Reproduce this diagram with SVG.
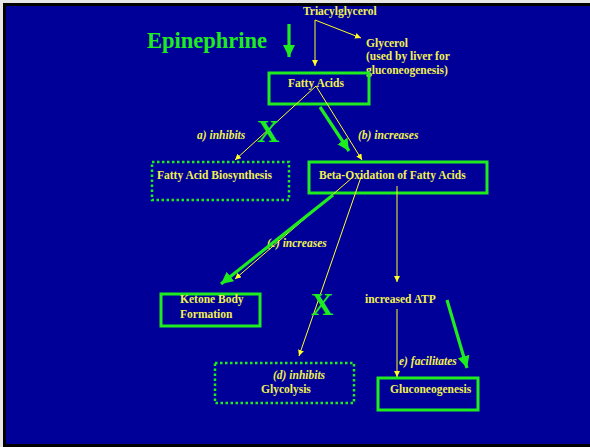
<svg xmlns="http://www.w3.org/2000/svg" width="590" height="447" viewBox="0 0 590 447">
  <defs>
    <style>
      .t { font-family: "Liberation Serif", "Times New Roman", serif; font-weight: bold; font-size: 11.5px; fill: #f0f050; }
      .i { font-style: italic; }
      .box { fill: none; stroke: #1eec1e; stroke-width: 3; }
      .dot { fill: none; stroke: #1eec1e; stroke-width: 2.5; stroke-dasharray: 2.5 2.5; }
      .y { stroke: #ffff22; stroke-width: 1; fill: none; }
      .g { stroke: #1eec1e; stroke-width: 3.2; fill: none; }
      .x { font-family: "Liberation Serif", "Times New Roman", serif; font-weight: bold; font-size: 31px; fill: #1eec1e; }
    </style>
    <marker id="ay" markerUnits="userSpaceOnUse" markerWidth="8" markerHeight="8" refX="6" refY="3" orient="auto">
      <path d="M0,0 L6,3 L0,6 Z" fill="#ffff22"/>
    </marker>
    <marker id="ag" markerUnits="userSpaceOnUse" markerWidth="14" markerHeight="14" refX="12" refY="6" orient="auto">
      <path d="M0,0 L12,6 L0,12 Z" fill="#1eec1e"/>
    </marker>
  </defs>

  <rect x="0" y="0" width="590" height="447" fill="#e6e6e6"/>
  <rect x="3" y="3" width="587" height="444" fill="#000000"/>
  <rect x="6" y="6" width="584" height="438" fill="#000099"/>

  <g id="epinephrine">
    <text x="147" y="48" font-family="Liberation Serif, Times New Roman, serif" font-weight="bold" font-size="22.5" fill="#1eec1e">Epinephrine</text>
  </g>
  <g id="triacylglycerol">
    <text class="t" x="303" y="15">Triacylglycerol</text>
  </g>
  <g id="glycerol">
    <text class="t" x="366" y="47">Glycerol</text>
    <text class="t" x="366" y="60">(used by liver for</text>
    <text class="t" x="366" y="74">gluconeogenesis)</text>
  </g>
  <g id="fatty-acids">
    <rect class="box" x="269" y="73" width="100" height="31"/>
    <text class="t" x="288" y="87">Fatty Acids</text>
  </g>
  <g id="fa-biosynthesis">
    <rect class="dot" x="152" y="162" width="137" height="38"/>
    <text class="t" x="157" y="179">Fatty Acid Biosynthesis</text>
  </g>
  <g id="beta-oxidation">
    <rect class="box" x="309" y="162" width="178" height="31"/>
    <text class="t" x="319" y="179">Beta-Oxidation of Fatty Acids</text>
  </g>
  <g id="ketone">
    <rect class="box" x="161" y="294" width="99" height="32"/>
    <text class="t" x="180" y="303">Ketone Body</text>
    <text class="t" x="180" y="318">Formation</text>
  </g>
  <g id="increased-atp">
    <text class="t" x="365" y="303">increased ATP</text>
  </g>
  <g id="glycolysis">
    <rect class="dot" x="215" y="363" width="139" height="40"/>
    <text class="t i" x="273" y="379">(d) inhibits</text>
    <text class="t" x="261" y="393">Glycolysis</text>
  </g>
  <g id="gluconeogenesis">
    <rect class="box" x="378" y="378" width="100" height="32"/>
    <text class="t" x="390" y="393">Gluconeogenesis</text>
  </g>

  <g id="connectors">
    <text class="t i" x="197" y="139">a) inhibits</text>
    <text class="t i" x="358" y="139">(b) increases</text>
    <text class="t i" x="267" y="247">(c) increases</text>
    <text class="t i" x="399" y="365">e) facilitates</text>

    <path class="y" d="M315,20 L315,66" marker-end="url(#ay)"/>
    <path class="y" d="M315,20 L361,38" marker-end="url(#ay)"/>
    <path class="y" d="M316,86 L235,160" marker-end="url(#ay)"/>
    <path class="y" d="M316,86 L362,160" marker-end="url(#ay)"/>
    <path class="y" d="M353,177 L235,279" marker-end="url(#ay)"/>
    <path class="y" d="M361,177 L299,356" marker-end="url(#ay)"/>
    <path class="y" d="M397,186 L397,282" marker-end="url(#ay)"/>
    <path class="y" d="M397,309 L397,377" marker-end="url(#ay)"/>

    <path class="g" d="M289,24 L289,57" marker-end="url(#ag)"/>
    <path class="g" d="M320,107 L349,151" marker-end="url(#ag)"/>
    <path class="g" d="M333,195 L221,284" marker-end="url(#ag)"/>
    <path class="g" d="M447,300 L467,368" marker-end="url(#ag)"/>

    <text class="x" x="257" y="142">X</text>
    <text class="x" x="311" y="315">X</text>
  </g>
</svg>
